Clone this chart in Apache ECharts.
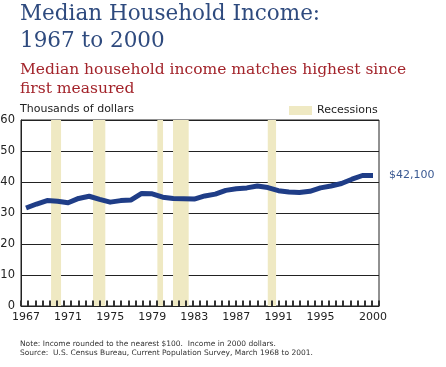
<!DOCTYPE html>
<html><head><meta charset="utf-8">
<script src="https://cdn.jsdelivr.net/npm/echarts@6/dist/echarts.min.js"></script>
<style>html,body{margin:0;padding:0;background:#fff}#c{width:446px;height:367px}</style>
</head><body><div id="c"></div>
<script>
const years = [1967,1968,1969,1970,1971,1972,1973,1974,1975,1976,1977,1978,1979,1980,1981,1982,1983,1984,1985,1986,1987,1988,1989,1990,1991,1992,1993,1994,1995,1996,1997,1998,1999,2000];
const income = [31.6,32.9,34.0,33.8,33.3,34.7,35.4,34.4,33.5,34.0,34.2,36.3,36.2,35.1,34.7,34.6,34.5,35.5,36.1,37.3,37.8,38.1,38.7,38.2,37.2,36.8,36.6,37.0,38.1,38.7,39.5,40.9,42.1,42.1];
const recessionStart = [1969.38,1973.37,1979.49,1980.98,1989.99];
const recessionEnd   = [1970.33,1974.54,1980.03,1982.47,1990.78];
const xTickLabels = [1967,1971,1975,1979,1983,1987,1991,1995,2000];

const X_MIN = 1966.52, X_MAX = 2000.57, TICK_COUNT = 50;
const minorTicks = [];
for (let k = 0; k <= TICK_COUNT; k++) minorTicks.push(X_MIN + k*(X_MAX-X_MIN)/TICK_COUNT);

const sans = 'DejaVu Sans';
const serif = 'DejaVu Serif';
const chart = echarts.init(document.getElementById('c'), null, {renderer:'canvas'});
const lineData = years.map((y,i)=>[y,income[i]]);
const last = income[income.length-1];
chart.setOption({
  animation:false,
  title:[
    {text:'Median Household Income:\n1967 to 2000', left:20, top:1, padding:0,
     textStyle:{fontFamily:serif,fontSize:21.5,fontWeight:'normal',color:'#2e4a7e',lineHeight:27}},
    {text:'Median household income matches highest since\nfirst measured', left:20, top:60, padding:0,
     textStyle:{fontFamily:serif,fontSize:15.5,fontWeight:'normal',color:'#a3242b',lineHeight:19.5}},
    {text:'Thousands of dollars', left:20, top:104, padding:0,
     textStyle:{fontFamily:sans,fontSize:11,fontWeight:'normal',color:'#222'}},
    {text:'Note: Income rounded to the nearest $100.  Income in 2000 dollars.\nSource:  U.S. Census Bureau, Current Population Survey, March 1968 to 2001.', left:20, top:339, padding:0,
     textStyle:{fontFamily:sans,fontSize:7.5,fontWeight:'normal',color:'#333',lineHeight:9.5}}
  ],
  legend:{data:['Recessions'], left:289, top:105, padding:0, itemWidth:23, itemHeight:9, itemGap:4,
    icon:'rect', textStyle:{fontFamily:sans,fontSize:11,color:'#222'}, selectedMode:false},
  grid:{left:21,right:67,top:120,bottom:61,show:true,borderColor:'#222',borderWidth:1,containLabel:false,outerBoundsMode:'none'},
  xAxis:{type:'value',min:X_MIN,max:X_MAX,
     axisLine:{show:true,onZero:false,lineStyle:{color:'#222'}},
     axisTick:{show:false},
     splitLine:{show:false},
     axisLabel:{customValues:xTickLabels,fontFamily:sans,fontSize:11,color:'#222',margin:6,
       formatter:v=>String(v)}},
  yAxis:{type:'value',min:0,max:60,interval:10,
    axisLine:{show:true,lineStyle:{color:'#222'}},axisTick:{show:false},
    splitLine:{show:true,lineStyle:{color:'#222',width:1}},
    axisLabel:{fontFamily:sans,fontSize:11.5,color:'#222',margin:6}},
  series:[
    {name:'Income',type:'line',data:lineData,symbol:'none',
     lineStyle:{color:'#1f3d87',width:5,join:'round',cap:'butt'},
     z:5,
     endLabel:{show:true,distance:16,fontFamily:sans,fontSize:11,color:'#3a5992',
       formatter:()=>'$'+Math.round(last*1000).toLocaleString('en-US')},
     markArea:{silent:true,itemStyle:{color:'#efe9c3'},
       data:recessionStart.map((s,i)=>[{xAxis:s},{xAxis:recessionEnd[i]}])}},
    {name:'ticks',type:'line',silent:true,data:[],symbol:'none',z:10,
     markLine:{silent:true,symbol:'none',label:{show:false},
       lineStyle:{color:'#333',width:2,type:'solid'},
       data:minorTicks.map(v=>[{coord:[v,0]},{coord:[v,1.8]}])}},
    {name:'Recessions',type:'bar',data:[],itemStyle:{color:'#efe9c3'}}
  ]
});
</script></body></html>
